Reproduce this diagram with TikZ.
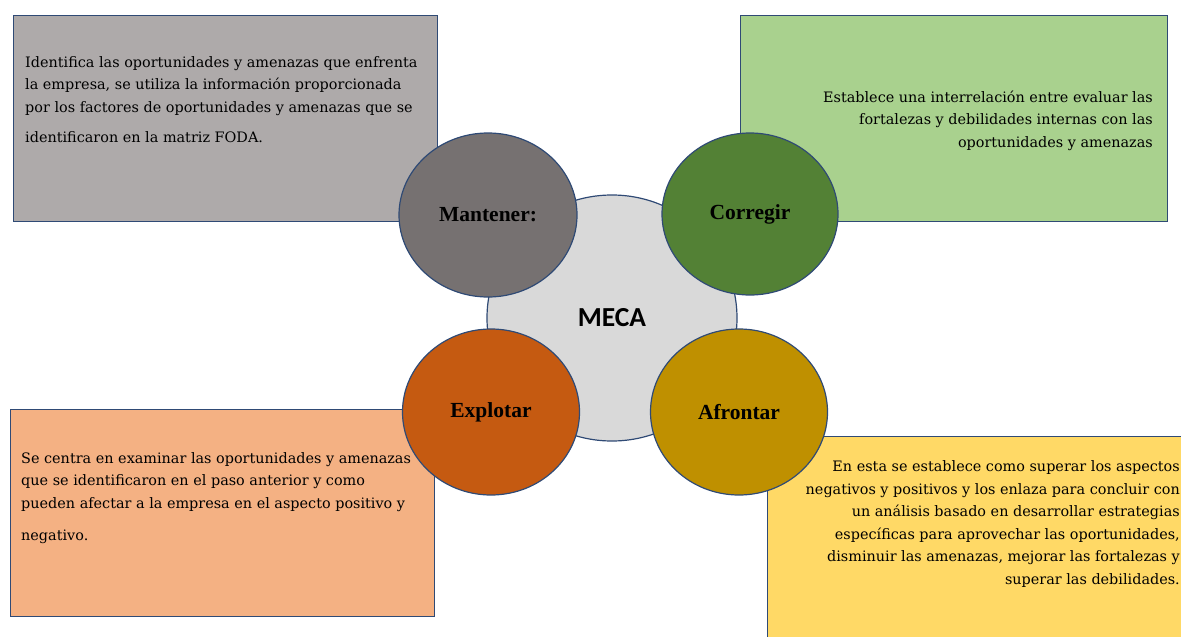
\documentclass[tikz,border=0pt]{standalone}
\usepackage{fontspec}
\setmainfont{Liberation Serif}
\newfontfamily\bodyfont{DejaVu Serif}
\newfontfamily\calibri{Carlito}
\usetikzlibrary{shapes.geometric}
\definecolor{bordc}{HTML}{2F4A75}
\definecolor{boxgray}{HTML}{AEAAAA}
\definecolor{elgray}{HTML}{767171}
\definecolor{boxgreen}{HTML}{A9D18E}
\definecolor{elgreen}{HTML}{538135}
\definecolor{boxorange}{HTML}{F4B183}
\definecolor{elorange}{HTML}{C55A11}
\definecolor{boxyellow}{HTML}{FFD966}
\definecolor{elyellow}{HTML}{BF9000}
\definecolor{mecagray}{HTML}{D9D9D9}
\tikzset{
  infobox/.style={draw=bordc, line width=1.2pt, rectangle, anchor=north west, inner sep=0pt},
  bubble/.style={draw=bordc, line width=1.2pt, ellipse, inner sep=0pt, font=\fontsize{21.5}{24}\selectfont\bfseries},
  bodytext/.style={font=\bodyfont\fontsize{14.4}{22.5}\selectfont, inner sep=0pt}
}
\begin{document}
\begin{tikzpicture}[x=1pt,y=-1pt]
\useasboundingbox (0,0) rectangle (1181,637);
% boxes
\node[infobox, fill=boxgray, minimum width=424pt, minimum height=206pt] (bTL) at (13,15) {};
\node[infobox, fill=boxgreen, minimum width=427pt, minimum height=206pt] (bTR) at (740,15) {};
\node[infobox, fill=boxorange, minimum width=424pt, minimum height=207pt] (bBL) at (10,409) {};
\node[infobox, fill=boxyellow, minimum width=430pt, minimum height=215pt] (bBR) at (767,436) {};
% texts (base anchor = baseline of the last line)
\node[bodytext, anchor=base west, align=left] (tTL) at (25,142) {Identifica las oportunidades y amenazas que enfrenta\\la empresa, se utiliza la información proporcionada\\por los factores de oportunidades y amenazas que se\\[7.5pt]identificaron en la matriz FODA.};
\node[bodytext, anchor=base east, align=right] (tTR) at (1153,147) {Establece una interrelación entre evaluar las\\fortalezas y debilidades internas con las\\oportunidades y amenazas};
\node[bodytext, anchor=base west, align=left] (tBL) at (21,540) {Se centra en examinar las oportunidades y amenazas\\que se identificaron en el paso anterior y como\\pueden afectar a la empresa en el aspecto positivo y\\[9.5pt]negativo.};
\node[bodytext, anchor=base east, align=right] (tBR) at (1180,584) {En esta se establece como superar los aspectos\\negativos y positivos y los enlaza para concluir con\\un análisis basado en desarrollar estrategias\\específicas para aprovechar las oportunidades,\\disminuir las amenazas, mejorar las fortalezas y\\superar las debilidades.};
% center
\node[draw=bordc, line width=1.2pt, ellipse, fill=mecagray, minimum width=250pt, minimum height=246pt, inner sep=0pt, font=\calibri\fontsize{27.5}{30}\selectfont\bfseries] (meca) at (612,318) {MECA};
% bubbles
\node[bubble, fill=elgray, minimum width=178pt, minimum height=164pt] (mant) at (488,215) {Mantener:};
\node[bubble, fill=elgreen, minimum width=176pt, minimum height=162pt] (corr) at (750,214) {Corregir};
\node[bubble, fill=elorange, minimum width=177pt, minimum height=166pt] (expl) at (491,412) {Explotar};
\node[bubble, fill=elyellow, minimum width=177pt, minimum height=166pt] (afro) at (739,412) {Afrontar};
\end{tikzpicture}
\end{document}
